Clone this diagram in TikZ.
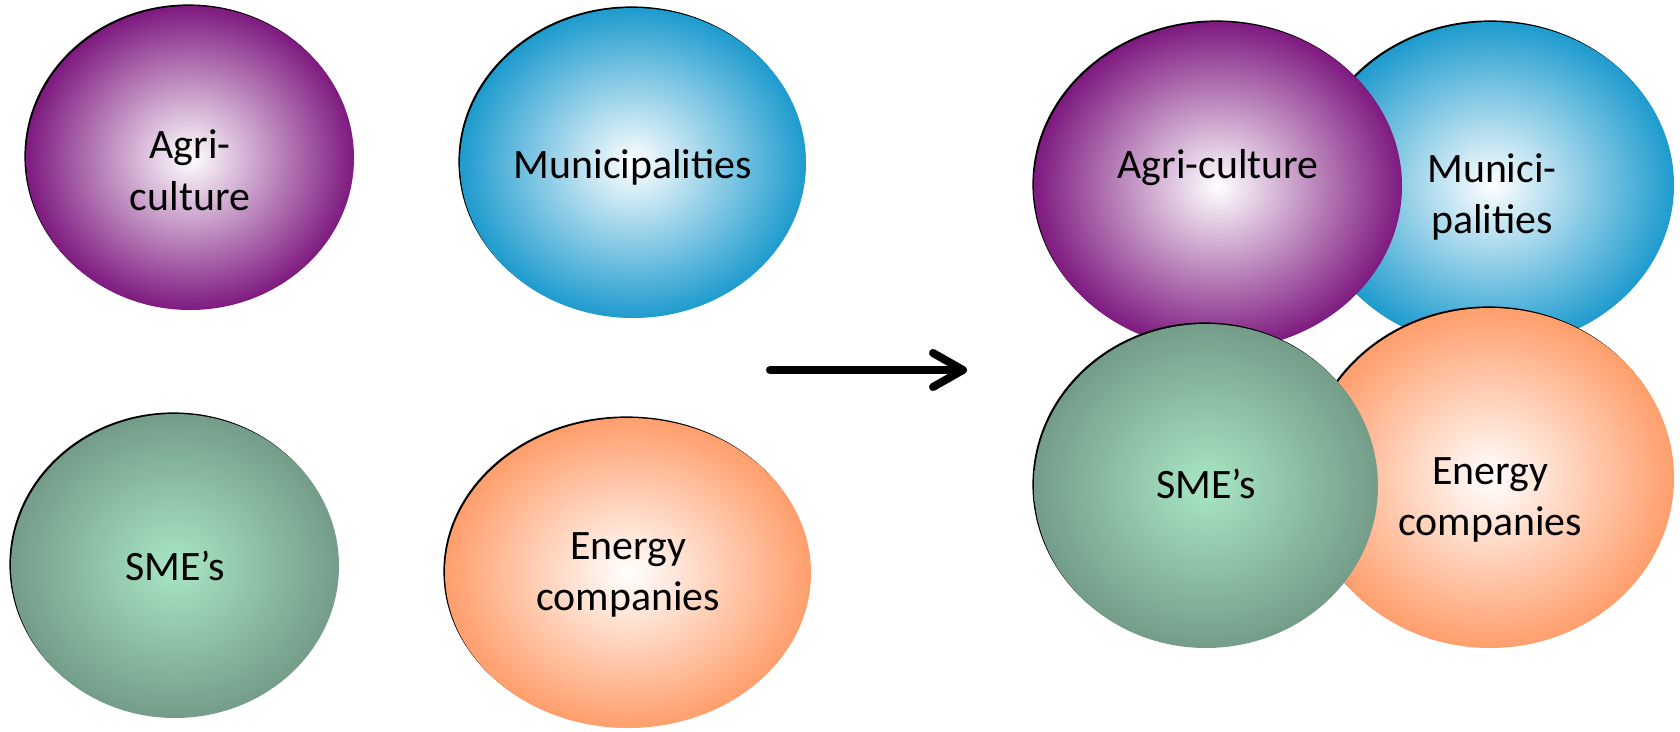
\documentclass[tikz,border=0pt]{standalone}
\usepackage{fontspec}
\setmainfont{Carlito}
\usetikzlibrary{shapes.geometric,shadows,arrows.meta}
\definecolor{agricol}{RGB}{126,26,128}
\definecolor{municol}{RGB}{30,155,206}
\definecolor{smecol}{RGB}{116,157,137}
\definecolor{smein}{RGB}{168,230,196}
\definecolor{energycol}{RGB}{255,158,108}
\begin{document}
\begin{tikzpicture}[x=0.5bp,y=-0.5bp,line cap=round,
	blob/.style 2 args={ellipse,inner sep=0pt,inner color=#2,outer color=#1,
		drop shadow={shadow xshift=-0.8bp,shadow yshift=0.8bp,opacity=1,fill=black}},
	txt/.style={align=center,font=\fontsize{21}{26}\selectfont},
	>={Straight Barb[length=15bp,width=17bp,round]}]
	\useasboundingbox (0,0) rectangle (1680,732);
	% before: four separate groups
	\node[blob={agricol}{white},minimum width=164bp,minimum height=152bp] (agri) at (190,158) {};
	\node[blob={municol}{white},minimum width=173bp,minimum height=155bp] (muni) at (633,163) {};
	\node[blob={smecol}{smein},minimum width=164bp,minimum height=152bp] (sme) at (175,566) {};
	\node[blob={energycol}{white},minimum width=183bp,minimum height=155bp] (energy) at (628,573) {};
	\node[txt] (agritxt) at ([yshift=-6bp]agri) {Agri-\\culture};
	\node[txt] (munitxt) at ([yshift=-2bp]muni) {Municipalities};
	\node[txt] (smetxt) at (sme) {SME’s};
	\node[txt] (energytxt) at ([yshift=-1bp]energy) {Energy\\companies};
	% after: overlapping groups
	\node[blob={municol}{white},minimum width=182bp,minimum height=163bp] (muniR) at (1492,185) {};
	\node[blob={agricol}{white},minimum width=184bp,minimum height=164bp] (agriR) at (1218,186) {};
	\node[blob={energycol}{white},minimum width=184bp,minimum height=170bp] (energyR) at (1490,478) {};
	\node[blob={smecol}{smein},minimum width=172bp,minimum height=162bp] (smeR) at (1206,486) {};
	\node[txt] (agriRtxt) at ([yshift=9bp]agriR) {Agri-culture};
	\node[txt] (muniRtxt) at ([yshift=-6bp]muniR) {Munici-\\palities};
	\node[txt] (smeRtxt) at ([yshift=1bp]smeR) {SME’s};
	\node[txt] (energyRtxt) at ([yshift=-11bp]energyR) {Energy\\companies};
	\coordinate (arrfrom) at (770,370);
	\coordinate (arrto) at (967,370);
	\draw[->,line width=4bp] (arrfrom) -- (arrto);
\end{tikzpicture}
\end{document}
